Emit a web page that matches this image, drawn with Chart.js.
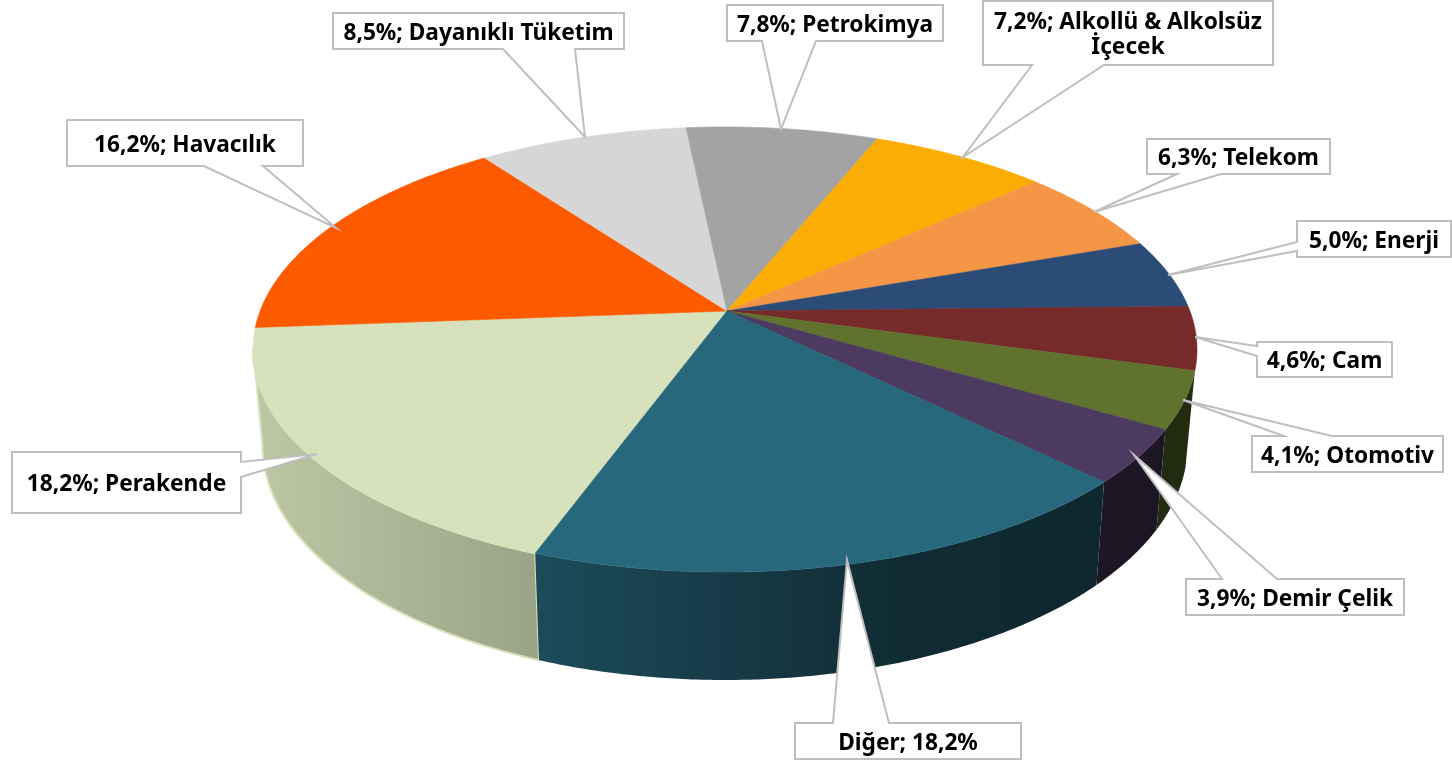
<!DOCTYPE html>
<html lang="tr">
<head>
<meta charset="utf-8">
<title>Sektör dağılımı</title>
<script src="https://cdn.jsdelivr.net/npm/chart.js@4"></script>
<style>
html, body { margin: 0; padding: 0; background: #fff; }
canvas { display: block; }
</style>
</head>
<body>
<canvas id="pie" width="1452" height="761"></canvas>
<script>
// Values, clockwise from the Perakende slice
var sectors = ['Perakende', 'Havacılık', 'Dayanıklı Tüketim', 'Petrokimya', 'Alkollü & Alkolsüz İçecek',
    'Telekom', 'Enerji', 'Cam', 'Otomotiv', 'Demir Çelik', 'Diğer'];
var shares = [18.2, 16.2, 8.5, 7.8, 7.2, 6.3, 5.0, 4.6, 4.1, 3.9, 18.2];
var colors = ['#d7e2bc', '#fe5b00', '#d6d6d6', '#a3a3a3', '#fbad03',
    '#f59546', '#2a4c77', '#772a2a', '#5f732e', '#4d3a60', '#27687c'];

// Label boxes: box [left, top, right, bottom], where the pointer leaves the box, pointer tip
var callouts = [
    {box: [12, 452, 241, 513], side: 'right', base: [462, 477], tip: [317, 454]},
    {box: [67, 120, 303, 166], side: 'bottom', base: [204, 263], tip: [336, 228]},
    {box: [333, 13, 624, 49], side: 'bottom', base: [503, 575], tip: [585, 137]},
    {box: [727, 5, 943, 41], side: 'bottom', base: [762, 816], tip: [781, 129]},
    {box: [983, 1, 1273, 65], side: 'bottom', base: [1032, 1104], tip: [963, 157], lines: ['7,2%; Alkollü & Alkolsüz', 'İçecek']},
    {box: [1147, 139, 1330, 174], side: 'bottom', base: [1177, 1221], tip: [1094, 212]},
    {box: [1297, 221, 1451, 257], side: 'left', base: [242, 251], tip: [1168, 275]},
    {box: [1257, 342, 1392, 377], side: 'left', base: [346, 356], tip: [1195, 337]},
    {box: [1252, 436, 1443, 472], side: 'top', base: [1284, 1332], tip: [1183, 400]},
    {box: [1186, 579, 1404, 615], side: 'top', base: [1222, 1277], tip: [1134, 455]},
    {box: [795, 723, 1021, 759], side: 'top', base: [833, 889], tip: [847, 560], lines: ['Diğer; 18,2%']}
];

// Perspective of the disc
var TILT = 0.1775;
var SQUASH = 0.464;
// Slices meet a little off the rim's centre in the picture
var APEX_DX = 2;
var APEX_DY = 1;
// Part of the rim that shows a wall, Chart.js angles in radians
var WALL_FROM = 15.5 * Math.PI / 180;
var WALL_TO = 170 * Math.PI / 180;
// Wall brightness by x position, as [x, factor]
var wallShade = [[253, 0.88], [540, 0.72], [600, 0.67], [800, 0.5], [900, 0.41], [1200, 0.37]];

function project(arc, angle) {
    // angle is Chart.js style, 0 = 3 o'clock
    var u = Math.cos(angle), v = Math.sin(angle);
    var w = 1 - TILT * v;
    return {
        x: arc.x + arc.outerRadius * u / w,
        y: arc.y + arc.outerRadius * SQUASH * v / w
    };
}

function lowerRim(arc, p) {
    return {
        x: arc.x + (p.x - arc.x) * 0.98,
        y: p.y + 100 + (p.y - 430) * 0.056
    };
}

function rimPoints(arc, from, to) {
    var pts = [];
    var n = Math.max(2, Math.ceil((to - from) / 0.008));
    for (var i = 0; i <= n; i++) {
        pts.push(project(arc, from + (to - from) * i / n));
    }
    return pts;
}

function shadeColor(hex, f) {
    var n = parseInt(hex.slice(1), 16);
    var r = Math.round((n >> 16 & 255) * f), g = Math.round((n >> 8 & 255) * f), b = Math.round((n & 255) * f);
    return 'rgb(' + r + ',' + g + ',' + b + ')';
}

// Slice tops go through the library's own arc elements
Chart.ArcElement.prototype.draw = function (ctx) {
    var pts = rimPoints(this, this.startAngle, this.endAngle);
    ctx.save();
    ctx.fillStyle = this.options.backgroundColor;
    ctx.strokeStyle = this.options.backgroundColor;
    ctx.lineWidth = 0.6;
    ctx.beginPath();
    ctx.moveTo(this.x + APEX_DX, this.y + APEX_DY);
    pts.forEach(function (p) { ctx.lineTo(p.x, p.y); });
    ctx.closePath();
    ctx.fill();
    ctx.stroke();
    ctx.restore();
};

function drawWall(ctx, arc, i, from, to) {
    var top = rimPoints(arc, from, to);
    var bottom = top.map(function (p) { return lowerRim(arc, p); }).reverse();
    var grad = ctx.createLinearGradient(253, 0, 1200, 0);
    wallShade.forEach(function (s) {
        grad.addColorStop((s[0] - 253) / (1200 - 253), shadeColor(colors[i], s[1]));
    });
    ctx.save();
    ctx.fillStyle = grad;
    ctx.beginPath();
    top.concat(bottom).forEach(function (p, j) {
        if (j === 0) { ctx.moveTo(p.x, p.y); } else { ctx.lineTo(p.x, p.y); }
    });
    ctx.closePath();
    ctx.fill();
    // only the pale slice shows an edge around its wall
    if (i === 0) {
        ctx.strokeStyle = colors[i];
        ctx.lineWidth = 2;
        ctx.stroke();
    }
    ctx.restore();
}

var wallsPlugin = {
    id: 'walls',
    beforeDatasetsDraw: function (chart) {
        var ctx = chart.ctx;
        chart.getDatasetMeta(0).data.forEach(function (arc, i) {
            // angles run past a full turn, so try the range one turn up too
            [0, 2 * Math.PI].forEach(function (turn) {
                var from = Math.max(arc.startAngle, WALL_FROM + turn);
                var to = Math.min(arc.endAngle, WALL_TO + turn);
                if (to > from) {
                    drawWall(ctx, arc, i, from, to);
                }
            });
        });
    }
};

function calloutPath(ctx, c) {
    var l = c.box[0], t = c.box[1], r = c.box[2], b = c.box[3];
    ctx.beginPath();
    ctx.moveTo(l, t);
    if (c.side === 'top') {
        ctx.lineTo(c.base[0], t); ctx.lineTo(c.tip[0], c.tip[1]); ctx.lineTo(c.base[1], t);
    }
    ctx.lineTo(r, t);
    if (c.side === 'right') {
        ctx.lineTo(r, c.base[0]); ctx.lineTo(c.tip[0], c.tip[1]); ctx.lineTo(r, c.base[1]);
    }
    ctx.lineTo(r, b);
    if (c.side === 'bottom') {
        ctx.lineTo(c.base[1], b); ctx.lineTo(c.tip[0], c.tip[1]); ctx.lineTo(c.base[0], b);
    }
    ctx.lineTo(l, b);
    if (c.side === 'left') {
        ctx.lineTo(l, c.base[1]); ctx.lineTo(c.tip[0], c.tip[1]); ctx.lineTo(l, c.base[0]);
    }
    ctx.closePath();
}

var labelsPlugin = {
    id: 'callouts',
    afterDatasetsDraw: function (chart) {
        var ctx = chart.ctx;
        callouts.forEach(function (c, i) {
            ctx.save();
            calloutPath(ctx, c);
            ctx.fillStyle = '#fff';
            ctx.fill();
            ctx.strokeStyle = '#bfbfbf';
            ctx.lineWidth = 2;
            ctx.stroke();

            var lines = c.lines || [shares[i].toFixed(1).replace('.', ',') + '%; ' + sectors[i]];
            var mid = (c.box[0] + c.box[2]) / 2;
            var y = (c.box[1] + c.box[3]) / 2 + 2.5 - (lines.length - 1) * 12.5;
            ctx.font = '700 22.7px "Noto Sans"';
            ctx.fillStyle = '#000';
            ctx.textAlign = 'center';
            ctx.textBaseline = 'middle';
            lines.forEach(function (line, n) {
                ctx.fillText(line, mid, y + n * 25);
            });
            ctx.restore();
        });
    }
};

new Chart(document.getElementById('pie'), {
    type: 'pie',
    data: {
        labels: sectors,
        datasets: [{
            data: shares,
            backgroundColor: colors,
            borderWidth: 0,
            clip: false
        }]
    },
    options: {
        responsive: false,
        animation: false,
        rotation: 199.9,
        radius: 464.5,
        layout: { padding: { left: 0, right: 2, top: 0, bottom: 141 } },
        plugins: {
            legend: { display: false },
            tooltip: { enabled: false }
        }
    },
    plugins: [wallsPlugin, labelsPlugin]
});
</script>
</body>
</html>
